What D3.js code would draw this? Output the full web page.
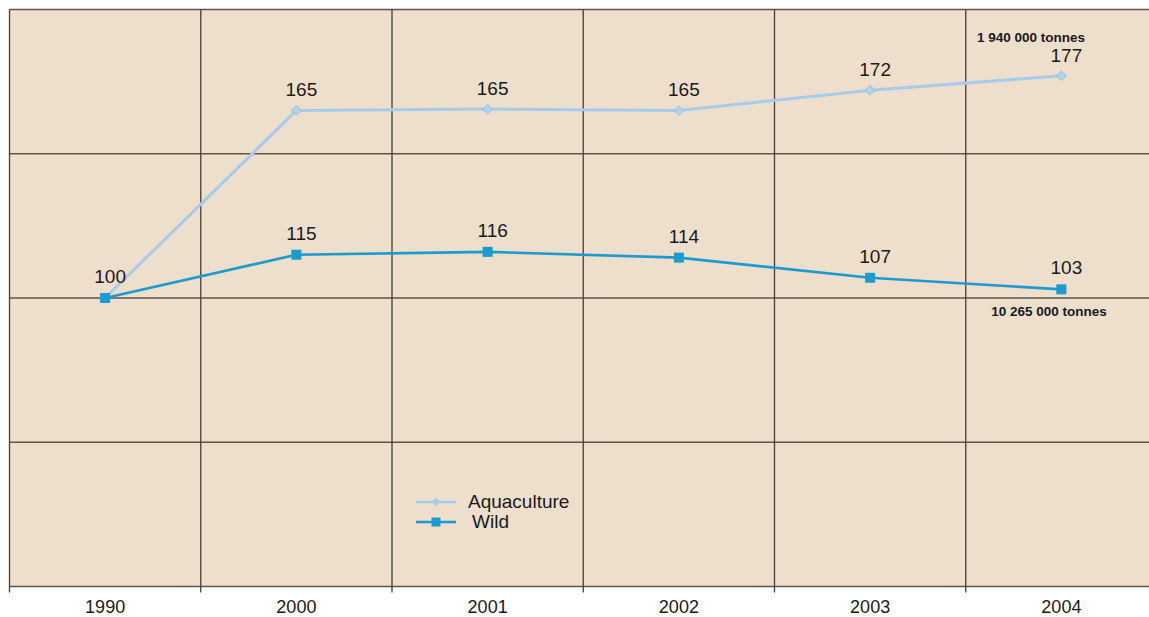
<!DOCTYPE html>
<html>
<head>
<meta charset="utf-8">
<script src="https://cdn.jsdelivr.net/npm/d3@7"></script>
<style>
  body { margin: 0; background: #fff; }
  text { font-family: "Liberation Sans", Arial, sans-serif; fill: #1a1a1a; }
</style>
</head>
<body>
<script>
(function() {

    var years = ['1990', '2000', '2001', '2002', '2003', '2004']; // categories
    var aquaculture = [100, 165, 165.5, 165, 172, 177]; // index, 1990 = 100
    var wild = [100, 115, 116, 114, 107, 103];
    var aquaLabels = ['', '165', '165', '165', '172', '177'];
    var wildLabels = ['100', '115', '116', '114', '107', '103'];
    var yTicks = [0, 50, 100, 150, 200];

    var W = 1149, H = 617;

    var svg = d3.select('body').append('svg')
        .attr('width', W)
        .attr('height', H);

    var x = d3.scaleBand().domain(years).range([9.5, 1157]);
    var y = d3.scaleLinear().domain([0, 200]).range([586.5, 9.5]);
    var cx = function(i) { return x(years[i]) + x.bandwidth() / 2; };

    // background
    svg.append('rect')
        .attr('x', x.range()[0]).attr('y', y(200))
        .attr('width', x.range()[1] - x.range()[0])
        .attr('height', y(0) - y(200))
        .attr('fill', '#eedecc');

    // horizontal grid
    svg.selectAll('.hgrid').data(yTicks).enter().append('line')
        .attr('x1', x.range()[0]).attr('x2', x.range()[1])
        .attr('y1', function(d) { return y(d); })
        .attr('y2', function(d) { return y(d); })
        .attr('stroke', '#5e5550').attr('stroke-width', 1.3);

    // vertical grid (band edges)
    var edges = years.map(function(d) { return x(d); });
    svg.selectAll('.vgrid').data(edges).enter().append('line')
        .attr('x1', function(d) { return d; }).attr('x2', function(d) { return d; })
        .attr('y1', y(200)).attr('y2', y(0) + 6)
        .attr('stroke', '#463e39').attr('stroke-width', 1.3);

    // x axis labels
    var xAxis = d3.axisBottom(x).tickSize(0).tickPadding(14);
    var gx = svg.append('g').attr('transform', 'translate(0,' + y(0) + ')').call(xAxis);
    gx.select('.domain').remove();
    gx.selectAll('text').style('font-size', '18px').attr('fill', '#1a1a1a')
        .style('font-family', '"Liberation Sans", Arial, sans-serif');

    var line = d3.line()
        .x(function(d, i) { return cx(i); })
        .y(function(d) { return y(d); });

    var cAqua = '#a5cdeb', cWild = '#1c9bd0';

    // aquaculture
    svg.append('path').datum(aquaculture)
        .attr('d', line).attr('fill', 'none')
        .attr('stroke', cAqua).attr('stroke-width', 3);
    svg.selectAll('.aq').data(aquaculture).enter().append('path')
        .attr('d', d3.symbol().type(d3.symbolDiamond2).size(60))
        .attr('transform', function(d, i) { return 'translate(' + cx(i) + ',' + y(d) + ')'; })
        .attr('fill', '#b0d4ef').attr('stroke', '#8fc0e6').attr('stroke-width', 1);

    // wild
    svg.append('path').datum(wild)
        .attr('d', line).attr('fill', 'none')
        .attr('stroke', cWild).attr('stroke-width', 2.6);
    svg.selectAll('.wd').data(wild).enter().append('rect')
        .attr('x', function(d, i) { return cx(i) - 5; })
        .attr('y', function(d) { return y(d) - 5; })
        .attr('width', 10).attr('height', 10)
        .attr('fill', cWild);

    // value labels
    svg.selectAll('.al').data(aquaculture).enter().append('text')
        .attr('x', function(d, i) { return cx(i) + 5; })
        .attr('y', function(d) { return y(d) - 14; })
        .attr('text-anchor', 'middle').style('font-size', '19px')
        .text(function(d, i) { return aquaLabels[i]; });
    svg.selectAll('.wl').data(wild).enter().append('text')
        .attr('x', function(d, i) { return cx(i) + 5; })
        .attr('y', function(d) { return y(d) - 15; })
        .attr('text-anchor', 'middle').style('font-size', '19px')
        .text(function(d, i) { return wildLabels[i]; });

    // tonnage notes
    svg.append('text').attr('x', 1031).attr('y', 42)
        .attr('text-anchor', 'middle').style('font-size', '13.5px').style('font-weight', 'bold')
        .text('1 940 000 tonnes');
    svg.append('text').attr('x', 1049).attr('y', 316)
        .attr('text-anchor', 'middle').style('font-size', '13.5px').style('font-weight', 'bold')
        .text('10 265 000 tonnes');

    // legend
    var legend = svg.append('g').attr('transform', 'translate(416,502)');
    legend.append('line').attr('x1', 0).attr('x2', 40).attr('y1', 0).attr('y2', 0)
        .attr('stroke', cAqua).attr('stroke-width', 2.5);
    legend.append('path').attr('d', d3.symbol().type(d3.symbolDiamond2).size(45))
        .attr('transform', 'translate(20,0)').attr('fill', cAqua);
    legend.append('text').attr('x', 52).attr('y', 6).style('font-size', '19px').text('Aquaculture');
    legend.append('line').attr('x1', 0).attr('x2', 40).attr('y1', 20).attr('y2', 20)
        .attr('stroke', cWild).attr('stroke-width', 2.5);
    legend.append('rect').attr('x', 15.5).attr('y', 15.5).attr('width', 9).attr('height', 9)
        .attr('fill', cWild);
    legend.append('text').attr('x', 56).attr('y', 26).style('font-size', '19px').text('Wild');

})();
</script>
</body>
</html>
